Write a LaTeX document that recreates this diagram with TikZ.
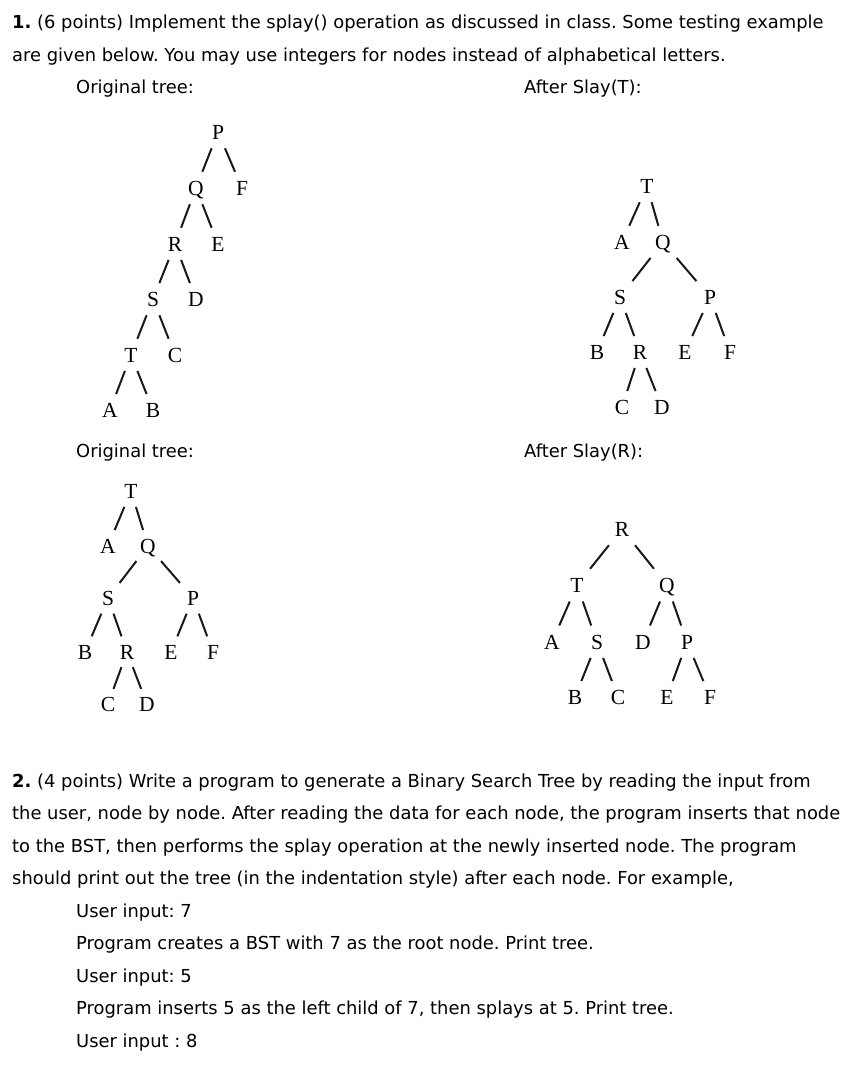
\documentclass[tikz,border=0pt]{standalone}
\usepackage{fontspec}
\setmainfont{DejaVu Sans}
\newfontfamily\treefont{Liberation Serif}
\usetikzlibrary{calc}
\frenchspacing
\tikzset{
  txt/.style={anchor=base west, inner sep=0pt, font=\fontsize{17.9}{20}\selectfont},
  lt/.style={inner sep=0pt, text height=14pt, text depth=0pt, font=\treefont\fontsize{21.5}{24}\selectfont},
  edge/.style={line width=2pt, black!90}
}
\newcommand\tedge[2]{\draw[edge] ($(#1)!0.29!(#2)$) -- ($(#1)!0.71!(#2)$);}
\begin{document}
\begin{tikzpicture}[x=1pt,y=-1pt]
\useasboundingbox[fill=white] (0,0) rectangle (852,1072);
% Section 1 text
\node[txt] (l1) at (12,28) {\textbf{1.} (6 points) Implement the splay() operation as discussed in class. Some testing example};
\node[txt] (l2) at (12,61) {are given below. You may use integers for nodes instead of alphabetical letters.};
\node[txt] (o1) at (76,93) {Original tree:};
\node[txt] (a1) at (524,93) {After Slay(T):};
\node[txt] (o2) at (76,457) {Original tree:};
\node[txt] (a2) at (524,457) {After Slay(R):};
% Tree 1
\node[lt] (aP) at (218,132) {P};
\node[lt] (aQ) at (196,188) {Q};
\node[lt] (aF) at (242,188) {F};
\node[lt] (aR) at (175,244) {R};
\node[lt] (aE) at (218,244) {E};
\node[lt] (aS) at (153,299) {S};
\node[lt] (aD) at (196,299) {D};
\node[lt] (aT) at (131,355) {T};
\node[lt] (aC) at (175,355) {C};
\node[lt] (aA) at (110,410) {A};
\node[lt] (aB) at (153,410) {B};
\tedge{aP}{aQ}\tedge{aP}{aF}
\tedge{aQ}{aR}\tedge{aQ}{aE}
\tedge{aR}{aS}\tedge{aR}{aD}
\tedge{aS}{aT}\tedge{aS}{aC}
\tedge{aT}{aA}\tedge{aT}{aB}
% Tree 2
\node[lt] (bT) at (647,186) {T};
\node[lt] (bA) at (622,242) {A};
\node[lt] (bQ) at (663,242) {Q};
\node[lt] (bS) at (620,297) {S};
\node[lt] (bP) at (710,297) {P};
\node[lt] (bB) at (597,352) {B};
\node[lt] (bR) at (640,352) {R};
\node[lt] (bE) at (685,352) {E};
\node[lt] (bF) at (730,352) {F};
\node[lt] (bC) at (622,407) {C};
\node[lt] (bD) at (662,407) {D};
\tedge{bT}{bA}\tedge{bT}{bQ}
\tedge{bQ}{bS}\tedge{bQ}{bP}
\tedge{bS}{bB}\tedge{bS}{bR}
\tedge{bP}{bE}\tedge{bP}{bF}
\tedge{bR}{bC}\tedge{bR}{bD}
% Tree 3
\node[lt] (cT) at (131,491) {T};
\node[lt] (cA) at (108,546) {A};
\node[lt] (cQ) at (148,546) {Q};
\node[lt] (cS) at (108,598) {S};
\node[lt] (cP) at (193,598) {P};
\node[lt] (cB) at (85,652) {B};
\node[lt] (cR) at (127,652) {R};
\node[lt] (cE) at (171,652) {E};
\node[lt] (cF) at (213,652) {F};
\node[lt] (cC) at (108,704) {C};
\node[lt] (cD) at (147,704) {D};
\tedge{cT}{cA}\tedge{cT}{cQ}
\tedge{cQ}{cS}\tedge{cQ}{cP}
\tedge{cS}{cB}\tedge{cS}{cR}
\tedge{cP}{cE}\tedge{cP}{cF}
\tedge{cR}{cC}\tedge{cR}{cD}
% Tree 4
\node[lt] (dR) at (622,529) {R};
\node[lt] (dT) at (577,585) {T};
\node[lt] (dQ) at (667,585) {Q};
\node[lt] (dA) at (552,642) {A};
\node[lt] (dS) at (597,642) {S};
\node[lt] (dD) at (643,642) {D};
\node[lt] (dP) at (687,642) {P};
\node[lt] (dB) at (575,697) {B};
\node[lt] (dC) at (618,697) {C};
\node[lt] (dE) at (667,697) {E};
\node[lt] (dF) at (710,697) {F};
\tedge{dR}{dT}\tedge{dR}{dQ}
\tedge{dT}{dA}\tedge{dT}{dS}
\tedge{dQ}{dD}\tedge{dQ}{dP}
\tedge{dS}{dB}\tedge{dS}{dC}
\tedge{dP}{dE}\tedge{dP}{dF}
% Section 2 text
\node[txt] (m1) at (12,787) {\textbf{2.} (4 points) Write a program to generate a Binary Search Tree by reading the input from};
\node[txt] (m2) at (12,819.5) {the user, node by node. After reading the data for each node, the program inserts that node};
\node[txt] (m3) at (12,852) {to the BST, then performs the splay operation at the newly inserted node. The program};
\node[txt] (m4) at (12,884.5) {should print out the tree (in the indentation style) after each node. For example,};
\node[txt] (m5) at (76,917) {User input: 7};
\node[txt] (m6) at (76,949.5) {Program creates a BST with 7 as the root node. Print tree.};
\node[txt] (m7) at (76,982) {User input: 5};
\node[txt] (m8) at (76,1014.5) {Program inserts 5 as the left child of 7, then splays at 5. Print tree.};
\node[txt] (m9) at (76,1047) {User input : 8};
\end{tikzpicture}
\end{document}
